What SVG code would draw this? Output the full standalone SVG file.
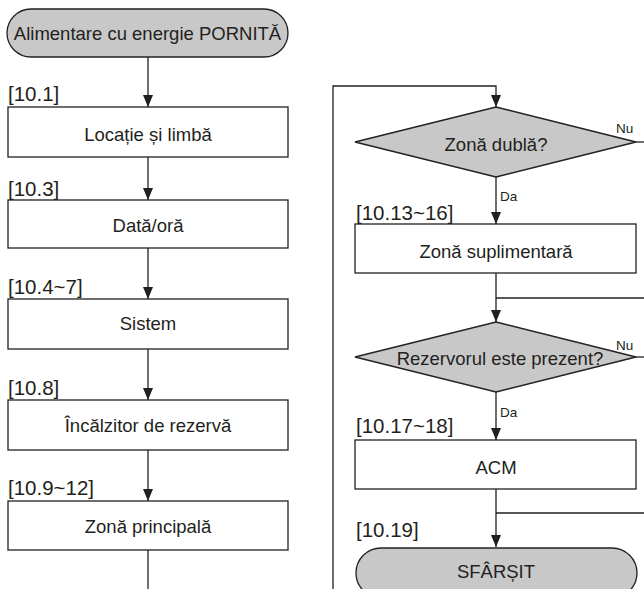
<svg xmlns="http://www.w3.org/2000/svg" width="644" height="589" viewBox="0 0 644 589">
<defs>
<marker id="arr" markerUnits="userSpaceOnUse" markerWidth="12" markerHeight="12" viewBox="0 0 12 12" refX="12" refY="6" orient="auto">
<path d="M0,1 L12,6 L0,11 Z" fill="#231f20"/>
</marker>
<style>
.box{fill:#fff;stroke:#231f20;stroke-width:1.3}
.term{fill:#c8c8c8;stroke:#231f20;stroke-width:1.3}
.ln{fill:none;stroke:#231f20;stroke-width:1.3}
.t{font-family:"Liberation Sans",Arial,sans-serif;font-size:18.5px;fill:#231f20;text-anchor:middle}
.lbl{font-family:"Liberation Sans",Arial,sans-serif;font-size:20.5px;fill:#231f20}
.s{font-family:"Liberation Sans",Arial,sans-serif;font-size:13.5px;fill:#231f20}
</style>
</defs>
<rect width="644" height="589" fill="#fff"/>
<g id="connectors">
<path class="ln" d="M148,57 V107" marker-end="url(#arr)"/>
<path class="ln" d="M148,157 V200" marker-end="url(#arr)"/>
<path class="ln" d="M148,248 V299" marker-end="url(#arr)"/>
<path class="ln" d="M148,349 V400" marker-end="url(#arr)"/>
<path class="ln" d="M148,450 V501" marker-end="url(#arr)"/>
<path class="ln" d="M148,550 V589"/>
<path class="ln" d="M333,589 V86 H496 V107" marker-end="url(#arr)"/>
<path class="ln" d="M636,142 H644"/>
<path class="ln" d="M496,177 V224" marker-end="url(#arr)"/>
<path class="ln" d="M496,273 V322" marker-end="url(#arr)"/>
<path class="ln" d="M496,298 H644"/>
<path class="ln" d="M636,357 H644"/>
<path class="ln" d="M496,392 V440" marker-end="url(#arr)"/>
<path class="ln" d="M496,489 V547" marker-end="url(#arr)"/>
<path class="ln" d="M496,513 H644"/>
<text class="s" x="500" y="201">Da</text>
<text class="s" x="616" y="133">Nu</text>
<text class="s" x="500" y="417">Da</text>
<text class="s" x="616" y="350">Nu</text>
</g>
<g id="start">
<rect class="term" x="7" y="9" width="281" height="48" rx="24"/>
<text class="t" x="147.5" y="39.5">Alimentare cu energie PORNITĂ</text>
</g>
<g id="n10_1">
<text class="lbl" x="8" y="101">[10.1]</text>
<rect class="box" x="8" y="107" width="280" height="50"/>
<text class="t" x="148" y="141">Locație și limbă</text>
</g>
<g id="n10_3">
<text class="lbl" x="8" y="196">[10.3]</text>
<rect class="box" x="8" y="200" width="280" height="48"/>
<text class="t" x="148" y="231.5">Dată/oră</text>
</g>
<g id="n10_4">
<text class="lbl" x="8" y="294">[10.4~7]</text>
<rect class="box" x="8" y="299" width="280" height="50"/>
<text class="t" x="148" y="330">Sistem</text>
</g>
<g id="n10_8">
<text class="lbl" x="8" y="395">[10.8]</text>
<rect class="box" x="8" y="400" width="280" height="50"/>
<text class="t" x="148" y="432">Încălzitor de rezervă</text>
</g>
<g id="n10_9">
<text class="lbl" x="8" y="495">[10.9~12]</text>
<rect class="box" x="8" y="501" width="280" height="49"/>
<text class="t" x="148" y="532.5">Zonă principală</text>
</g>
<g id="d_dual">
<polygon class="term" points="496,107 636,142 496,177 355,142"/>
<text class="t" x="496" y="151">Zonă dublă?</text>
</g>
<g id="n10_13">
<text class="lbl" x="356" y="220">[10.13~16]</text>
<rect class="box" x="355" y="224" width="281" height="49"/>
<text class="t" x="496" y="258">Zonă suplimentară</text>
</g>
<g id="d_tank">
<polygon class="term" points="496,322 636,357 496,392 355,357"/>
<text class="t" x="500" y="365">Rezervorul este prezent?</text>
</g>
<g id="n10_17">
<text class="lbl" x="356" y="433">[10.17~18]</text>
<rect class="box" x="355" y="440" width="281" height="49"/>
<text class="t" x="496" y="474">ACM</text>
</g>
<g id="end">
<text class="lbl" x="356" y="537">[10.19]</text>
<rect class="term" x="356" y="548" width="281" height="50" rx="25"/>
<text class="t" x="496" y="578">SFÂRȘIT</text>
</g>
</svg>
